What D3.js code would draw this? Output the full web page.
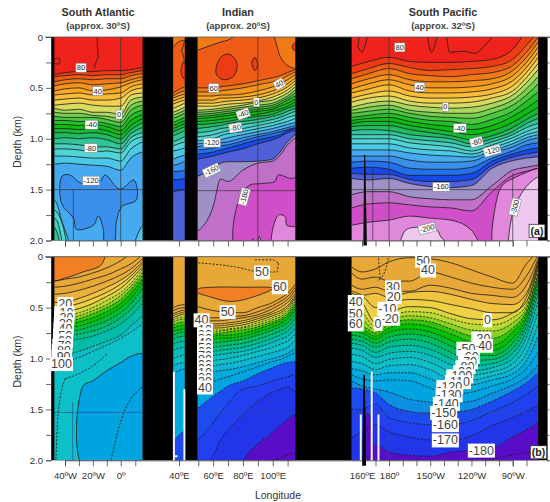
<!DOCTYPE html>
<html>
<head>
<meta charset="utf-8">
<script src="https://cdnjs.cloudflare.com/ajax/libs/d3/7.8.5/d3.min.js"></script>
<style>
body { margin: 0; background: #fff; }
text { font-family: "Liberation Sans", Arial, sans-serif; }
</style>
</head>
<body>
<svg id="chart" width="550" height="502"></svg>
<script>
// tick positions along the broken longitude axis
const lonBreaks = [-40, 0, 40, 50, 100, 160, 180, 270];
const lonPixels = [65, 120.7, 179, 198.3, 272.7, 362, 389, 512.7];
const lonTicks = [-40, -30, -20, -10, 0, 10, 40, 50, 60, 70, 80, 90, 100, 110, 160, 170, 180, 190, 200, 210, 220, 230, 240, 250, 260, 270, 280];
const lonLabels = { "-40": "40ºW", "-20": "20ºW", "0": "0º", "40": "40ºE", "60": "60ºE", "80": "80ºE", "100": "100ºE", "160": "160ºE", "180": "180º", "210": "150ºW", "240": "120ºW", "270": "90ºW" };
const depthTicks = [0, 0.25, 0.5, 0.75, 1, 1.25, 1.5, 1.75, 2];
const basinTitles = [["South Atlantic", "(approx. 30ºS)", 98], ["Indian", "(approx. 20ºS)", 238], ["South Pacific", "(approx. 32ºS)", 443]];

// contour levels and the fill of the band just below each level
const levelsA = [90, 80, 70, 60, 50, 40, 30, 20, 10, 0, -10, -20, -30, -40, -50, -60, -70, -80, -90, -100, -110, -120, -130, -140, -150, -160, -170, -180, -190, -200, -210];
const colorsA = ["#f0241a", "#ee3a16", "#ee5c14", "#f07a14", "#f4941c", "#f8a824", "#f8bc38", "#f4d050", "#d8dc60", "#a8d860", "#78d050", "#4cc840", "#20c028", "#08bc10", "#14b834", "#20bc60", "#30c498", "#48d0c0", "#50d4d8", "#48c8e8", "#44aaf0", "#3a90ee", "#2070f0", "#1848e8", "#5060d8", "#a090c8", "#c070c8", "#d050c8", "#e088dc", "#efc8ef", "#f4dcf4"];
const levelsB = [60, 50, 40, 30, 20, 10, 0, -10, -20, -30, -40, -50, -60, -70, -80, -90, -100, -110, -120, -130, -140, -150, -160, -170, -180, -190];
const colorsB = ["#f08020", "#e8a838", "#e8a838", "#eab03a", "#f0c440", "#f0d044", "#d8d83c", "#b8d834", "#88d024", "#30c410", "#00c000", "#00bc30", "#00bc60", "#00bc88", "#00bca8", "#08bcc0", "#10c0c8", "#08b4d4", "#04aadc", "#04a4e0", "#0890e4", "#1c4cf0", "#2040f0", "#2434e8", "#5a10c8", "#5a10c8"];

// stations of each section
const atlanticLon = [-47.6, -40, -30, -20, -10, 0, 7, 15];
const stripLon = [36, 39.5, 43];
const indianLon = [49.6, 60, 65, 70, 80, 90, 100, 105, 110, 115.2];
const pacificLonA = [153, 165, 180, 195, 210, 225, 240, 255, 270, 280, 288.5];
const pacificLonB = [153, 160, 170, 180, 195, 210, 225, 240, 255, 270, 280, 288.5];

// isotherm rows: level, then depth (km) at each station
const atlanticA = [
	[80, .37, .35, .34, .34, .33, .33, .32, .30],
	[70, .39, .38, .37, .38, .37, .37, .35, .33],
	[60, .44, .42, .41, .42, .41, .41, .38, .36],
	[50, .48, .46, .45, .47, .46, .45, .42, .39],
	[40, .53, .51, .50, .53, .52, .49, .45, .42],
	[30, .57, .56, .55, .57, .56, .55, .49, .46],
	[20, .62, .61, .60, .62, .62, .60, .53, .50],
	[10, .67, .66, .65, .67, .68, .68, .57, .55],
	[0, .70, .72, .71, .74, .74, .76, .62, .59],
	[-10, .74, .75, .75, .77, .78, .80, .67, .63],
	[-20, .78, .79, .79, .79, .81, .84, .72, .67],
	[-30, .82, .82, .83, .83, .85, .88, .77, .72],
	[-40, .86, .86, .87, .86, .88, .92, .82, .76],
	[-50, .90, .90, .91, .90, .92, .96, .87, .80],
	[-60, .94, .94, .95, .94, .96, 1.0, .91, .84],
	[-70, 1.0, .99, 1.0, .99, 1.01, 1.05, .95, .89],
	[-80, 1.05, 1.05, 1.06, 1.08, 1.08, 1.10, .99, .94],
	[-90, 1.10, 1.10, 1.11, 1.13, 1.12, 1.14, 1.03, .98],
	[-100, 1.17, 1.17, 1.18, 1.19, 1.19, 1.22, 1.10, 1.03],
	[-110, 1.25, 1.24, 1.25, 1.26, 1.27, 1.31, 1.19, 1.13]
];
const stripA = [
	[70, .10, .05, .03], [60, .55, .52, .49], [50, .58, .55, .53], [40, .60, .58, .56], [30, .63, .61, .59], [20, .66, .64, .62],
	[10, .70, .68, .65], [0, .74, .72, .69], [-10, .77, .75, .72], [-20, .80, .78, .75], [-30, .84, .82, .79], [-40, .87, .85, .82],
	[-50, .90, .88, .85], [-60, .93, .91, .88], [-70, .97, .95, .92], [-80, 1.03, 1.01, .98], [-90, 1.07, 1.05, 1.03], [-100, 1.12, 1.11, 1.09],
	[-110, 1.20, 1.18, 1.16], [-120, 1.26, 1.25, 1.22], [-130, 1.32, 1.32, 1.31], [-140, 1.40, 1.40, 1.39], [-150, 1.52, 1.51, 1.50]
];
const indianA = [
	[70, .13, .075, .05, .03, -.05, -.05, -.02, .19, .28, .31],
	[60, .50, .50, .49, .48, .46, .43, .40, .38, .35, .32],
	[50, .54, .54, .53, .52, .50, .47, .44, .42, .38, .345],
	[40, .58, .58, .57, .57, .56, .53, .49, .46, .42, .37],
	[30, .62, .62, .60, .60, .59, .57, .53, .50, .46, .40],
	[20, .65, .65, .64, .63, .62, .60, .56, .53, .49, .43],
	[10, .68, .68, .67, .66, .65, .63, .59, .56, .52, .46],
	[0, .72, .71, .70, .69, .67, .64, .62, .59, .55, .49],
	[-10, .74, .73, .72, .71, .69, .67, .65, .62, .58, .52],
	[-20, .76, .75, .74, .73, .71, .69, .67, .64, .60, .55],
	[-30, .78, .77, .76, .75, .73, .71, .69, .66, .62, .58],
	[-40, .80, .79, .78, .77, .75, .73, .71, .68, .65, .61],
	[-50, .83, .82, .81, .80, .78, .76, .73, .71, .68, .64],
	[-60, .86, .85, .84, .83, .80, .78, .76, .73, .70, .67],
	[-70, .90, .88, .87, .85, .83, .81, .78, .76, .73, .70],
	[-80, .94, .92, .90, .89, .86, .84, .81, .79, .76, .73],
	[-90, .98, .96, .94, .92, .90, .87, .84, .82, .79, .77],
	[-100, 1.02, 1.0, .97, .95, .93, .90, .87, .85, .83, .80],
	[-110, 1.05, 1.03, 1.01, .99, .96, .93, .90, .88, .86, .84],
	[-120, 1.08, 1.05, 1.04, 1.03, .99, .96, .93, .91, .89, .87],
	[-130, 1.11, 1.09, 1.07, 1.06, 1.02, .98, .95, .93, .91, .89],
	[-140, 1.15, 1.13, 1.11, 1.09, 1.05, 1.01, .98, .96, .92, .90],
	[-150, 1.20, 1.17, 1.15, 1.13, 1.10, 1.05, 1.01, .98, .94, .92],
	[-160, 1.37, 1.29, 1.24, 1.225, 1.225, 1.22, 1.20, 1.13, 1.03, .96],
	[-170, 1.91, 1.667, 1.396, 1.42, 1.307, 1.24, 1.22, 1.16, 1.06, .99]
];
const pacificA = [
	[80, .29, .24, .20, .24, .25, .25, .24, .22, .12, -.05, -.1],
	[70, .36, .31, .26, .30, .33, .32, .31, .29, .22, .08, -.05],
	[60, .41, .36, .31, .36, .38, .39, .37, .35, .28, .15, .0],
	[50, .46, .41, .37, .42, .44, .44, .43, .41, .33, .20, .05],
	[40, .51, .46, .42, .47, .50, .50, .49, .46, .38, .25, .10],
	[30, .55, .51, .47, .53, .55, .55, .54, .51, .43, .30, .15],
	[20, .60, .56, .53, .58, .60, .60, .59, .56, .48, .35, .20],
	[10, .64, .60, .58, .63, .65, .65, .64, .60, .53, .40, .26],
	[0, .69, .65, .63, .67, .69, .70, .69, .65, .57, .45, .32],
	[-10, .72, .69, .67, .72, .74, .75, .75, .70, .62, .51, .39],
	[-20, .75, .73, .71, .75, .78, .79, .80, .75, .67, .57, .46],
	[-30, .79, .77, .75, .79, .82, .83, .86, .81, .73, .63, .54],
	[-40, .82, .80, .79, .83, .86, .88, .91, .87, .78, .70, .62],
	[-50, .85, .83, .83, .87, .90, .93, .96, .92, .84, .76, .69],
	[-60, .88, .87, .87, .91, .94, .97, 1.01, .97, .89, .81, .75],
	[-70, .92, .91, .92, .96, .98, 1.0, 1.05, 1.0, .93, .85, .80],
	[-80, .96, .96, .96, 1.0, 1.02, 1.04, 1.08, 1.03, .96, .89, .85],
	[-90, 1.0, 1.0, 1.0, 1.04, 1.06, 1.08, 1.12, 1.06, .99, .93, .89],
	[-100, 1.05, 1.05, 1.05, 1.09, 1.11, 1.12, 1.15, 1.09, 1.02, .96, .93],
	[-110, 1.11, 1.11, 1.11, 1.14, 1.16, 1.17, 1.18, 1.12, 1.05, .99, .96],
	[-120, 1.17, 1.17, 1.17, 1.21, 1.23, 1.23, 1.22, 1.14, 1.08, 1.02, .99],
	[-130, 1.23, 1.22, 1.23, 1.29, 1.30, 1.30, 1.28, 1.19, 1.12, 1.06, 1.04],
	[-140, 1.29, 1.28, 1.30, 1.36, 1.36, 1.36, 1.34, 1.22, 1.15, 1.11, 1.09],
	[-150, 1.34, 1.35, 1.35, 1.40, 1.42, 1.42, 1.40, 1.26, 1.18, 1.15, 1.13],
	[-160, 1.39, 1.405, 1.39, 1.44, 1.47, 1.48, 1.46, 1.29, 1.215, 1.19, 1.176],
	[-170, 1.55, 1.52, 1.52, 1.57, 1.59, 1.60, 1.60, 1.46, 1.31, 1.28, 1.26],
	[-180, 1.68, 1.64, 1.63, 1.65, 1.67, 1.68, 1.71, 1.52, 1.36, 1.32, 1.29],
	[-190, 1.85, 1.82, 1.80, 1.76, 1.78, 1.80, 1.90, 2.2, 2.2, 2.2, 2.2]
];
const atlanticB = [
	[50, .24, .22, .20, .16, .11, .04, -.03, -.08],
	[40, .30, .29, .26, .22, .18, .12, .07, -.02],
	[30, .37, .36, .33, .29, .24, .18, .12, .02],
	[20, .45, .45, .41, .36, .30, .23, .16, .05],
	[10, .50, .49, .46, .41, .35, .27, .19, .07],
	[0, .55, .54, .51, .46, .39, .31, .22, .10],
	[-10, .58, .58, .55, .50, .43, .35, .26, .12],
	[-20, .61, .61, .58, .53, .47, .38, .29, .15],
	[-30, .64, .64, .61, .56, .50, .42, .32, .18],
	[-40, .67, .67, .64, .60, .54, .46, .36, .22],
	[-50, .70, .70, .68, .64, .58, .50, .41, .26],
	[-60, .74, .74, .72, .68, .63, .55, .46, .31],
	[-70, .79, .78, .76, .73, .68, .60, .52, .38],
	[-80, .84, .83, .81, .78, .73, .66, .58, .46],
	[-90, .97, .96, .93, .88, .83, .77, .68, .58],
	[-100, 1.05, 1.03, .99, .93, .87, .80, .74, .66]
];
const stripB = [
	[40, .50, .48, .47], [30, .53, .51, .50], [20, .56, .54, .52], [10, .58, .56, .54], [0, .60, .58, .56], [-10, .62, .60, .59],
	[-20, .64, .62, .61], [-30, .67, .65, .64], [-40, .70, .68, .67], [-50, .73, .72, .71], [-60, .77, .75, .74], [-70, .81, .79, .78],
	[-80, .86, .84, .83], [-90, .92, .90, .89], [-100, 1.0, .98, .96], [-110, 1.07, 1.05, 1.04], [-120, 1.15, 1.12, 1.10], [-150, 1.82, 1.76, 1.70]
];
const indianB = [
	[50, .49, .53, .54, .55, .55, .50, .45, .41, .36, .27],
	[40, .61, .60, .60, .59, .58, .54, .48, .44, .39, .30],
	[30, .64, .63, .63, .62, .60, .57, .51, .47, .42, .33],
	[20, .67, .66, .66, .65, .63, .59, .54, .50, .45, .36],
	[10, .69, .68, .68, .67, .65, .61, .56, .53, .48, .38],
	[0, .71, .70, .70, .69, .67, .63, .58, .55, .50, .40],
	[-10, .72, .72, .72, .71, .69, .65, .60, .57, .52, .42],
	[-20, .74, .74, .73, .72, .70, .67, .62, .59, .54, .44],
	[-30, .76, .76, .75, .74, .72, .69, .64, .61, .56, .46],
	[-40, .79, .78, .77, .77, .75, .71, .66, .63, .58, .49],
	[-50, .82, .81, .80, .80, .78, .74, .69, .66, .61, .52],
	[-60, .86, .85, .84, .83, .81, .77, .72, .69, .65, .56],
	[-70, .90, .89, .88, .87, .85, .81, .76, .73, .69, .60],
	[-80, .94, .93, .92, .91, .89, .85, .80, .77, .73, .65],
	[-90, .99, .97, .96, .95, .93, .89, .84, .81, .78, .70],
	[-100, 1.04, 1.02, 1.01, 1.0, .97, .93, .89, .86, .83, .76],
	[-110, 1.09, 1.07, 1.06, 1.05, 1.02, .98, .94, .92, .89, .82],
	[-120, 1.15, 1.13, 1.12, 1.11, 1.08, 1.04, 1.0, .98, .95, .90],
	[-130, 1.30, 1.23, 1.20, 1.18, 1.13, 1.08, 1.03, 1.01, .98, .94],
	[-150, 1.49, 1.37, 1.32, 1.27, 1.22, 1.15, 1.09, 1.06, 1.04, 1.03],
	[-160, 1.80, 1.63, 1.53, 1.44, 1.30, 1.27, 1.22, 1.20, 1.18, 1.15],
	[-170, 2.1, 1.95, 1.80, 1.70, 1.55, 1.42, 1.33, 1.30, 1.28, 1.33],
	[-180, 2.5, 2.5, 2.5, 2.5, 2.02, 1.84, 1.73, 1.66, 1.60, 1.55]
];
const pacificB = [
	[50, .10, .15, .12, .05, .01, .02, .06, .13, .20, .26, .07, -.05],
	[40, .16, .22, .20, .24, .24, .15, .20, .26, .30, .32, .19, -.02],
	[30, .28, .32, .30, .34, .34, .28, .31, .36, .38, .40, .28, .02],
	[20, .36, .38, .36, .40, .35, .34, .37, .42, .46, .47, .36, .04],
	[10, .34, .38, .50, .46, .42, .43, .47, .51, .55, .55, .40, .06],
	[0, .40, .45, .65, .56, .49, .50, .56, .61, .62, .55, .44, .08],
	[-10, .50, .55, .69, .60, .54, .55, .61, .66, .67, .60, .47, .10],
	[-20, .60, .62, .72, .63, .58, .60, .66, .72, .73, .65, .50, .13],
	[-30, .66, .68, .75, .66, .62, .64, .71, .78, .80, .70, .53, .16],
	[-40, .70, .72, .78, .70, .66, .69, .76, .84, .87, .74, .56, .19],
	[-50, .73, .75, .81, .74, .71, .74, .82, .91, .92, .80, .60, .22],
	[-60, .77, .79, .85, .79, .76, .79, .88, .97, .97, .85, .64, .26],
	[-70, .81, .83, .89, .84, .81, .85, .94, 1.02, 1.01, .90, .68, .30],
	[-80, .85, .87, .94, .89, .87, .91, 1.0, 1.07, 1.05, .95, .73, .36],
	[-90, .90, .92, .99, .95, .93, .97, 1.06, 1.12, 1.09, 1.0, .79, .44],
	[-100, .96, .98, 1.05, 1.01, .99, 1.04, 1.13, 1.16, 1.13, 1.05, .87, .54],
	[-110, 1.03, 1.05, 1.11, 1.07, 1.06, 1.11, 1.20, 1.21, 1.17, 1.10, .95, .66],
	[-120, 1.10, 1.12, 1.16, 1.14, 1.14, 1.20, 1.27, 1.26, 1.21, 1.15, 1.02, .78],
	[-130, 1.16, 1.20, 1.22, 1.21, 1.22, 1.29, 1.35, 1.33, 1.27, 1.20, 1.10, .94],
	[-140, 1.22, 1.27, 1.30, 1.33, 1.40, 1.43, 1.44, 1.42, 1.34, 1.26, 1.18, 1.06],
	[-150, 1.29, 1.30, 1.34, 1.45, 1.52, 1.54, 1.53, 1.50, 1.42, 1.32, 1.24, 1.14],
	[-160, 1.50, 1.50, 1.45, 1.58, 1.63, 1.65, 1.65, 1.61, 1.52, 1.43, 1.35, 1.27],
	[-170, 1.78, 1.72, 1.65, 1.72, 1.77, 1.80, 1.80, 1.76, 1.66, 1.58, 1.52, 1.46],
	[-180, 2.1, 2.1, 1.85, 1.92, 1.95, 1.96, 1.92, 1.90, 1.88, 1.77, 1.70, 1.63]
];

// closed contours that a depth-per-station row can't hold: level, then [lon, depth] points
const atlanticBlobsA = [
	[90, [[-47.6, .22], [-44, .21], [-44, .26], [-47.6, .26]]],
	[-120, [[-42, 1.366], [-36.5, 1.356], [-28, 1.44], [-14.9, 1.42], [-11.3, 1.356], [-.5, 1.497], [9, 1.405], [10.8, 1.6], [.7, 1.668], [-2.9, 1.8], [-5.3, 2.05], [-11.3, 2.05], [-12.5, 1.89], [-16, 1.76], [-19.7, 1.85], [-31.7, 1.89], [-34, 1.78], [-42.5, 1.635]]],
	[-100, [[-48, 1.6], [-46, 1.635], [-42.5, 1.8], [-37, 2.1], [-48, 2.1]]],
	[-90, [[-48, 1.7], [-46, 1.717], [-41.3, 1.865], [-40, 2.1], [-48, 2.1]]],
	[-80, [[-48, 1.78], [-46, 1.8], [-43.7, 1.9], [-42.5, 2.1], [-48, 2.1]]],
	[-70, [[-48, 1.86], [-47, 1.88], [-45, 1.95], [-44, 2.1], [-48, 2.1]]],
	[-100, [[15.5, 1.85], [14, 1.87], [9, 2.1], [15.5, 2.1]]]
];
const stripBlobsA = [[80, [[42.5, .24], [41, .35], [43, .42], [44, .35]]]];
const indianBlobsA = [
	[-180, [[75.8, 2.1], [78, 1.57], [84.7, 1.455], [92.6, 1.44], [101.5, 1.42], [103.7, 1.356], [111.6, 1.39], [116.5, 1.39], [116.5, 2.1]]],
	[-190, [[100, 2.1], [103.7, 1.75], [108.4, 1.766], [109.4, 1.85], [113.7, 1.864], [116.5, 1.87], [116.5, 2.1]]],
	[-190, [[85.5, 2.05], [86.7, 1.98], [88, 2.05]]],
	[-190, [[90, 2.05], [91, 1.96], [92.5, 2.05]]],
	[80, [[62, .36], [65, .2], [71, .17], [76, .26], [74, .38], [67, .42]]],
	[80, [[86, .25], [88, .2], [90, .28], [88, .33]]],
	[80, [[113, .1], [115.2, .05], [115.2, .14]]]
];
const pacificBlobsA = [
	[-190, [[258, 2.15], [258, 1.62], [263, 1.45], [272, 1.38], [280, 1.33], [290, 1.3], [290, 2.15]]],
	[-200, [[189, 2.1], [192, 1.9], [203, 1.87], [215, 1.9], [218, 1.97], [228, 2.1]]],
	[-200, [[269, 2.15], [270.5, 1.7], [275, 1.57], [282, 1.44], [290, 1.38], [290, 2.15]]]
];
const atlanticBlobsB = [
	[60, [[-47.6, -.05], [-12, -.05], [-14, .08], [-27, .15], [-40, .21], [-47.6, .23]]],
	[-130, [[15, .96], [7, .98], [0, 1.04], [-10, 1.12], [-20, 1.22], [-27, 1.27], [-26, 2.1], [15, 2.1]]]
];
const indianBlobsB = [[60, [[49.6, .32], [60, .3], [80, .3], [100, .31], [90, .38], [72, .44], [57, .39], [49.6, .35]]]];
const pacificBlobsB = [[-180, [[163, 1.55], [165, 1.55], [166, 2.1], [163, 2.1]]]];

// stroke only contour pieces
const extraLinesA = [
	[[-17, -.02], [-16, .2], [-19, .31]],
	[[43, .03], [41, .13], [43, .25]],
	[[158, 0], [157, .1], [160, .15], [163, .05], [164, 0]],
	[[208, 0], [211, .15], [214, .05], [215, 0]],
	[[222, 0], [224, .15], [235, .14], [242, .16], [252, .05], [255, 0]]
];
const extraLinesB = [
	[[-40, 1.20], [-45, 1.55], [-46.5, 2.0]],
	[[-40, 1.20], [-22, 1.09], [-10, .96]],
	[[15, 1.28], [0, 1.62], [-7, 2.0]],
	[[88, .03], [100, .03], [104, .06], [103, .15], [92, .15], [75, .1], [49.6, .06]],
	[[100, 2.0], [115.2, 1.92]],
	[[172, -.02], [174, .22], [171, .24]],
	[[180, -.02], [178, .1], [175, .2]],
	[[250, 2.0], [288, 1.9]]
];

// reference meridians and parallels, as [lon, depth] pairs
const meridiansA = [[[0, 0], [0, 2]], [[90, 0], [90, 2]], [[180, 0], [180, 2]], [[270, 1.34], [270, 2]], [[168, 1.29], [168, 2]], [[-34, 1.5], [-34, 2]]];
const parallelsA = [[[-47.6, 1.5], [15, 1.5]], [[36, 1.5], [43, 1.5]], [[49.6, 1.51], [115.2, 1.51]], [[153, 1.5], [288.5, 1.5]]];
const meridiansB = [[[-34.5, 1.43], [-34.5, 2]], [[180, 1.6], [180, 2]]];
const parallelsB = [[[-47.6, 1.53], [14, 1.53]], [[49.6, 1.53], [115.2, 1.53]], [[153, 1.53], [288.5, 1.53]]];
const spikeA = [[161, 2.05], [161.6, 1.16], [162.4, 1.16], [163.6, 2.05]];
const spikeB = [[160.4, 2.05], [161.2, 1.16], [162, 1.16], [163, 2.05]];
const whiteGapsB = [[[36.5, 1.13], [36.5, 2]], [[42.8, 1.3], [42.8, 2]], [[37, 1.96], [39, 1.96]], [[159.2, 1.55], [159.2, 2]], [[167.2, 1.13], [167.2, 2]], [[172.2, 1.55], [172.2, 2]]];

// contour labels: text, lon, depth, angle
const labelsA = [
	["80", -28.5, .30, 0], ["40", -16.5, .53, 0], ["0", -1.2, .76, 0], ["-40", -21, .86, 0], ["-80", -21.5, 1.09, 0], ["-120", -21.3, 1.41, 0],
	["60", 60.3, .50, 0], ["40", 104.4, .46, -30], ["0", 89, .64, 0], ["-40", 80.1, .754, -20], ["-80", 75, .89, -10], ["-120", 59.2, 1.036, 0], ["-160", 58.8, 1.31, -25], ["-180", 80.7, 1.57, -75],
	["80", 187.8, .10, 0], ["40", 202.3, .49, 0], ["0", 221, .685, 0], ["-40", 231.5, .895, 0], ["-80", 243.6, 1.03, -15], ["-120", 255, 1.115, -15], ["-160", 218, 1.47, 0], ["-200", 207.7, 1.88, -15], ["-300", 271.5, 1.67, -75]
];
const labelsB = [
	["20", -39.8, .46], ["-10", -40.5, .55], ["-20", -40.5, .60], ["-30", -40.9, .66], ["-40", -41.1, .71], ["-50", -41.3, .77], ["-60", -41.5, .82], ["-70", -41.9, .87], ["-80", -42.3, .92], ["-90", -42.5, .98], ["100", -42.5, 1.05],
	["50", 92.8, .15], ["60", 104.8, .295], ["50", 69.7, .54], ["40", 52.2, .62],
	["10", 54.5, .72], ["20", 54.5, .76], ["30", 54.5, .80], ["40", 54.5, .84], ["50", 54.5, .89], ["60", 54.5, .93], ["70", 54.5, .97], ["80", 54.5, 1.01], ["90", 54.5, 1.06], ["00", 54.5, 1.10], ["10", 54.5, 1.14], ["20", 54.5, 1.19], ["30", 54.5, 1.23], ["40", 54.5, 1.28],
	["50", 204.8, .033], ["40", 208.4, .13], ["30", 182.9, .295], ["20", 183.4, .39], ["-10", 178.8, .507], ["-20", 180.5, .605], ["0", 171.9, .655], ["40", 155.8, .44], ["50", 155.8, .556], ["60", 155.8, .66],
	["0", 251.6, .62], ["-30", 247.2, .80], ["-40", 248.4, .87], ["-50", 236.3, .90], ["-60", 238.7, .98], ["-70", 237.5, 1.03], ["-80", 235.6, 1.08], ["-90", 233.9, 1.13], ["-100", 231.5, 1.17], ["-110", 230.2, 1.227],
	["-120", 224.2, 1.276], ["-130", 223.7, 1.358], ["-140", 221.7, 1.44], ["-150", 219.8, 1.53], ["-160", 221, 1.65], ["-170", 221, 1.80], ["-180", 247.2, 1.90]
];

const svg = d3.select("#chart");
const x = d3.scaleLinear().domain(lonBreaks).range(lonPixels);
const yA = d3.scaleLinear().domain([0, 2]).range([37, 240.5]);
const yB = d3.scaleLinear().domain([0, 2]).range([256.7, 460.3]);
const colorA = d3.scaleOrdinal(levelsA, colorsA);
const colorB = d3.scaleOrdinal(levelsB, colorsB);

const defs = svg.append("defs");
defs.append("filter").attr("id", "soft").append("feGaussianBlur").attr("stdDeviation", 0.7);
defs.append("filter").attr("id", "softLine").append("feGaussianBlur").attr("stdDeviation", 0.3);

function drawSection(input) {
	const { panel, id, lon, rows, blobs, top, y, color, dashed } = input;
	const clip = "clip-" + panel + id;
	defs.append("clipPath").attr("id", clip).append("rect")
		.attr("x", x(lon[0])).attr("width", x(lon[lon.length - 1]) - x(lon[0]))
		.attr("y", y(0)).attr("height", y(2) - y(0));

	const g = svg.append("g").attr("clip-path", "url(#" + clip + ")");
	const fills = g.append("g").attr("filter", "url(#soft)");
	const lines = g.append("g").attr("filter", "url(#softLine)");

	const area = d3.area().x((d) => x(d[0])).y0(y(2.3)).y1((d) => y(d[1])).curve(d3.curveMonotoneX);
	const line = d3.line().x((d) => x(d[0])).y((d) => y(d[1])).curve(d3.curveMonotoneX);
	const closed = d3.line().x((d) => x(d[0])).y((d) => y(d[1])).curve(d3.curveCatmullRomClosed);

	fills.append("rect").attr("x", x(lon[0]) - 3).attr("width", x(lon[lon.length - 1]) - x(lon[0]) + 6)
		.attr("y", y(0) - 3).attr("height", y(2) - y(0) + 6).attr("fill", color(top));

	rows.forEach((r) => {
		const pts = lon.map((l, i) => [l, r[i + 1]]);
		fills.append("path").datum(pts).attr("fill", color(r[0])).attr("d", area);
		lines.append("path").datum(pts).attr("fill", "none").attr("stroke", "#1c1c1c")
			.attr("stroke-width", 0.8)
			.attr("stroke-dasharray", dashed && r[0] < 0 ? "2.2,1.4" : null)
			.attr("d", line);
	});
	blobs.forEach((b) => {
		fills.append("path").datum(b[1]).attr("fill", color(b[0])).attr("d", closed);
		lines.append("path").datum(b[1]).attr("fill", "none").attr("stroke", "#1c1c1c").attr("stroke-width", 0.8).attr("d", closed);
	});
	return g;
}

function drawPanel(input) {
	const { panel, y, color, sections, extra, dashed, meridians, parallels, ruleColor, spike } = input;
	svg.append("rect").attr("x", 51).attr("width", 496).attr("y", y(0)).attr("height", y(2) - y(0)).attr("fill", "#000");

	const line = d3.line().x((d) => x(d[0])).y((d) => y(d[1])).curve(d3.curveMonotoneX);
	const groups = sections.map((s) => drawSection({ panel, y, color, dashed, ...s }));
	const overlay = svg.append("g");

	// extra contour pieces only show inside their own section
	extra.forEach((e) => {
		const i = sections.findIndex((s) => e[0][0] >= s.lon[0] && e[0][0] <= s.lon[s.lon.length - 1]);
		groups[i].append("path").datum(e).attr("fill", "none").attr("stroke", "#1c1c1c").attr("stroke-width", 0.8)
			.attr("stroke-dasharray", dashed ? "2.2,1.4" : null).attr("filter", "url(#softLine)").attr("d", line);
	});
	meridians.concat(parallels).forEach((m) => {
		overlay.append("path").datum(m).attr("stroke", ruleColor).attr("stroke-width", 0.7).attr("d", d3.line().x((d) => x(d[0])).y((d) => y(d[1])));
	});
	overlay.append("path").datum(spike).attr("fill", "#000").attr("d", d3.line().x((d) => x(d[0])).y((d) => y(d[1])));

	const axisL = svg.append("g").attr("transform", "translate(51,0)")
		.call(d3.axisLeft(y).tickValues(depthTicks).tickSize(5).tickFormat((d) => d * 2 % 1 == 0 ? (d == 0 ? "0" : d.toFixed(1)) : ""));
	axisL.selectAll("text").attr("font-size", 9.5).attr("fill", "#333").attr("font-family", "Liberation Sans");
	svg.append("g").attr("transform", "translate(547,0)")
		.call(d3.axisRight(y).tickValues(depthTicks).tickSize(2.5).tickFormat(""));
	const axisX = svg.append("g").attr("transform", "translate(0," + y(2) + ")")
		.call(d3.axisBottom(x).tickValues(lonTicks).tickSize(6).tickFormat((d) => panel == "b" ? (lonLabels[d] || "") : ""));
	axisX.selectAll("text").attr("font-size", 9.5).attr("fill", "#333").attr("dy", "1.05em").attr("font-family", "Liberation Sans");
	svg.selectAll(".domain").attr("stroke", "#444").attr("stroke-width", 0.8);
	svg.selectAll(".tick line").attr("stroke", "#444").attr("stroke-width", 0.8);
	svg.append("line").attr("x1", 45).attr("x2", 550).attr("y1", y(0)).attr("y2", y(0)).attr("stroke", "#555").attr("stroke-width", 0.8);
}

drawPanel({
	panel: "a", y: yA, color: colorA, dashed: false, extra: extraLinesA, meridians: meridiansA, parallels: parallelsA, ruleColor: "#333", spike: spikeA,
	sections: [
		{ id: "atl", lon: atlanticLon, rows: atlanticA, blobs: atlanticBlobsA, top: 90 },
		{ id: "str", lon: stripLon, rows: stripA, blobs: stripBlobsA, top: 60 },
		{ id: "ind", lon: indianLon, rows: indianA, blobs: indianBlobsA, top: 60 },
		{ id: "pac", lon: pacificLonA, rows: pacificA, blobs: pacificBlobsA, top: 90 }
	]
});
drawPanel({
	panel: "b", y: yB, color: colorB, dashed: true, extra: extraLinesB, meridians: meridiansB, parallels: parallelsB, ruleColor: "#2850a0", spike: spikeB,
	sections: [
		{ id: "atl", lon: atlanticLon, rows: atlanticB, blobs: atlanticBlobsB, top: 50 },
		{ id: "str", lon: stripLon, rows: stripB, blobs: [], top: 50 },
		{ id: "ind", lon: indianLon, rows: indianB, blobs: indianBlobsB, top: 50 },
		{ id: "pac", lon: pacificLonB, rows: pacificB, blobs: pacificBlobsB, top: 50 }
	]
});

// bathymetry gaps in panel b
svg.append("g").selectAll("path").data(whiteGapsB).join("path")
	.attr("stroke", "#f4f4fa").attr("stroke-width", 2)
	.attr("d", d3.line().x((d) => x(d[0])).y((d) => yB(d[1])));
svg.append("path").datum(spikeB).attr("fill", "#000").attr("d", d3.line().x((d) => x(d[0])).y((d) => yB(d[1])));

// inline contour labels with a white box behind
function drawLabels(labels, y, size, family, fill, stroke) {
	labels.forEach((l) => {
		const g = svg.append("g").attr("transform", "translate(" + x(l[1]) + "," + y(l[2]) + ") rotate(" + (l[3] || 0) + ")");
		const box = g.append("rect").attr("fill", "#fff").attr("stroke", stroke).attr("stroke-width", 0.5);
		const t = g.append("text").attr("text-anchor", "middle").attr("dy", "0.36em")
			.attr("font-size", size).attr("font-family", family).attr("fill", fill).text(l[0]);
		const b = t.node().getBBox();
		box.attr("x", b.x - 1).attr("y", b.y).attr("width", b.width + 2).attr("height", b.height);
	});
}
drawLabels(labelsA, yA, 7.5, "Liberation Sans", "#222", "#777");
drawLabels(labelsB, yB, 12.5, "Liberation Sans Narrow, Liberation Sans", "#444", "none");

// panel letters
[["(a)", 537, 231], ["(b)", 538.5, 452.5]].forEach((p) => {
	const g = svg.append("g");
	const box = g.append("rect").attr("fill", "#fff").attr("stroke", "#222").attr("stroke-width", 0.7);
	const t = g.append("text").attr("x", p[1]).attr("y", p[2]).attr("dy", "0.36em").attr("text-anchor", "middle")
		.attr("font-size", 10.5).attr("font-weight", "bold").attr("fill", "#222").text(p[0]);
	const b = t.node().getBBox();
	box.attr("x", b.x - 1.5).attr("y", b.y - 0.5).attr("width", b.width + 3).attr("height", b.height + 1);
});

// titles
basinTitles.forEach((d) => {
	svg.append("text").attr("x", d[2]).attr("y", 16).attr("text-anchor", "middle").attr("font-size", 10.8).attr("font-weight", "bold").attr("fill", "#333").text(d[0]);
	svg.append("text").attr("x", d[2]).attr("y", 29).attr("text-anchor", "middle").attr("font-size", 9.5).attr("font-weight", "bold").attr("fill", "#444").text(d[1]);
});
[yA, yB].forEach((y) => {
	svg.append("text").attr("transform", "translate(21," + y(1.03) + ") rotate(-90)").attr("text-anchor", "middle")
		.attr("font-size", 10.5).attr("fill", "#333").text("Depth (km)");
});
svg.append("text").attr("x", 278).attr("y", 499).attr("text-anchor", "middle").attr("font-size", 10.5).attr("fill", "#333").text("Longitude");
</script>
</body>
</html>
